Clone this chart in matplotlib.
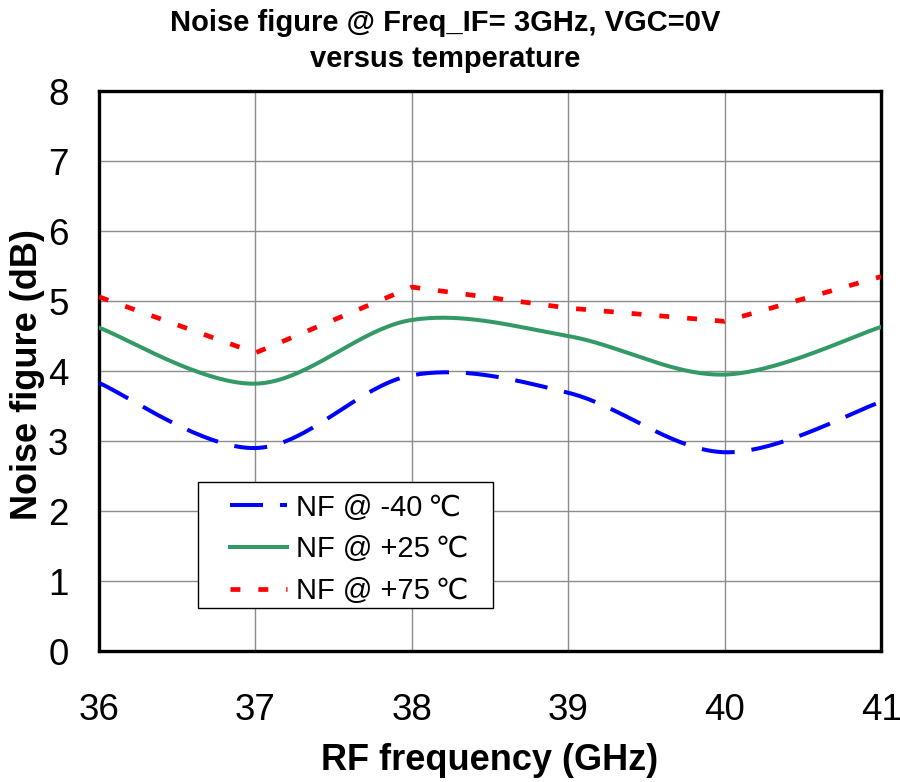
import numpy as np
import matplotlib
matplotlib.use("Agg")
import matplotlib.pyplot as plt
from matplotlib.patches import Rectangle

plt.rcParams['font.family'] = ['Liberation Sans', 'DejaVu Sans']

# RF frequency (GHz)
freq = [36, 37, 38, 39, 40, 41]
# noise figure (dB) per temperature
nf_m40 = [3.83, 2.90, 3.94, 3.69, 2.84, 3.56]
nf_p25 = [4.62, 3.82, 4.73, 4.50, 3.95, 4.63]
nf_p75 = [5.06, 4.26, 5.20, 4.90, 4.71, 5.35]

labels = ['NF @ -40\u2009\u2103', 'NF @ +25\u2009\u2103', 'NF @ +75\u2009\u2103']


def smooth(x, y, n=40):
    # Excel-style smoothed line (Catmull-Rom through the points)
    x = np.asarray(x, float)
    y = np.asarray(y, float)
    px = np.concatenate([[x[0]], x, [x[-1]]])
    py = np.concatenate([[y[0]], y, [y[-1]]])
    xs, ys = [], []
    t = np.linspace(0, 1, n)
    for i in range(1, len(px) - 2):
        p0, p1, p2, p3 = px[i - 1], px[i], px[i + 1], px[i + 2]
        q0, q1, q2, q3 = py[i - 1], py[i], py[i + 1], py[i + 2]
        c1x, c1y = p1 + (p2 - p0) / 6, q1 + (q2 - q0) / 6
        c2x, c2y = p2 - (p3 - p1) / 6, q2 - (q3 - q1) / 6
        b = [(1 - t) ** 3, 3 * (1 - t) ** 2 * t, 3 * (1 - t) * t ** 2, t ** 3]
        xs.append(b[0] * p1 + b[1] * c1x + b[2] * c2x + b[3] * p2)
        ys.append(b[0] * q1 + b[1] * c1y + b[2] * c2y + b[3] * q2)
    return np.concatenate(xs), np.concatenate(ys)


fig = plt.figure(figsize=(9, 7.82), dpi=100)
ax = fig.add_axes([0.11, 0.1675, 0.869, 0.716])

x1, y1 = smooth(freq, nf_m40)
ax.plot(x1, y1, color='#0000FF', lw=2.9, dashes=(8.2, 4.2),
        dash_capstyle='butt', label=labels[0], zorder=3)
x2, y2 = smooth(freq, nf_p25)
ax.plot(x2, y2, color='#339966', lw=2.9, label=labels[1], zorder=3)
ax.plot(freq, nf_p75, color='#FF0000', lw=3.4, dashes=(2.1, 3.8),
        dash_capstyle='butt', label=labels[2], zorder=3)

ax.set_xlim(36, 41)
ax.set_ylim(0, 8)
ax.set_xticks(freq)
ax.set_yticks(range(0, 9))
ax.grid(True, color='#8c8c8c', lw=1.0)
ax.tick_params(length=0, labelsize=26.5)
ax.tick_params(axis='x', pad=30)
ax.tick_params(axis='y', pad=22)
for s in ax.spines.values():
    s.set_linewidth(2.4)
    s.set_color('black')

ax.set_xlabel('RF frequency (GHz)', fontsize=26, fontweight='bold', va='center')
ax.xaxis.set_label_coords(0.5, -0.195)
ax.set_ylabel('Noise figure (dB)', fontsize=26, fontweight='bold', va='center')
ax.yaxis.set_label_coords(-0.091, 0.493)
fig.text(0.495, 0.989, 'Noise figure @ Freq_IF= 3GHz, VGC=0V\nversus temperature',
         fontsize=21, fontweight='bold', ha='center', va='top', linespacing=1.4)

# legend box drawn separately so the inner padding matches
ax.add_patch(Rectangle((0.1266, 0.0768), 0.3772, 0.225, transform=ax.transAxes,
                       facecolor='white', edgecolor='black', lw=1.0, zorder=4))
leg = ax.legend(loc='upper left', bbox_to_anchor=(0.1675, 0.281), fontsize=21,
                frameon=False, handlelength=1.95, handletextpad=0.3,
                labelspacing=0.47, borderpad=0, borderaxespad=0)
leg.set_zorder(5)

fig.savefig('out.png', dpi=100)
